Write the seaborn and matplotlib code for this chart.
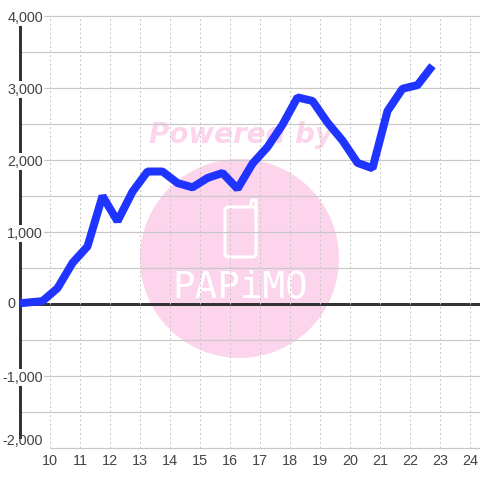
import matplotlib
matplotlib.use('Agg')
import matplotlib.pyplot as plt
from matplotlib.patches import Circle, FancyBboxPatch
import pandas as pd
import seaborn as sns

# Valores
horas = [9.0, 9.75, 10.25, 10.75, 11.25, 11.75, 12.25, 12.75, 13.25, 13.75,
         14.25, 14.75, 15.25, 15.75, 16.25, 16.75, 17.25, 17.75, 18.25, 18.75,
         19.25, 19.75, 20.25, 20.75, 21.25, 21.75, 22.25, 22.75]
valores = [10, 40, 220, 570, 800, 1500, 1150, 1560, 1840, 1840,
           1680, 1620, 1750, 1820, 1600, 1950, 2180, 2490, 2870, 2820,
           2520, 2270, 1960, 1885, 2680, 2990, 3040, 3310]
ticks_x = list(range(10, 25))
ticks_y = [-1000, 1000, 2000, 3000, 4000]
labels_y = ['-1,000', '1,000', '2,000', '3,000', '4,000']
grid_y = [-1500, -500, 500, 1500, 2500, 3500]

df = pd.DataFrame({'hora': horas, 'valor': valores})

sns.set_theme(style='white')
plt.rcParams['font.family'] = ['Liberation Sans', 'DejaVu Sans']

fig = plt.figure(figsize=(4.8, 4.8), dpi=100, facecolor='white')
ax = fig.add_axes([20 / 480, (480 - 448) / 480, 460 / 480, 432 / 480])

px = 72 / 100  # 1 pixel em pontos
cinza = '#c8c8c8'
texto = '#444444'
rosa = '#fcd5ec'

# Marca d'agua
ax.add_patch(Circle((239.5 / 480, 1 - 258.5 / 480), 99.5 / 480, transform=fig.transFigure,
                    fc=rosa, ec='none', zorder=0.1, clip_on=False))
ax.text(240.5 / 480, 1 - 135 / 480, 'Powered by', transform=fig.transFigure, color=rosa,
        family='DejaVu Sans', weight='bold', style='oblique', fontsize=20,
        ha='center', va='center', zorder=0.2)
ax.add_patch(FancyBboxPatch((225 / 480, 1 - 257 / 480), 31 / 480, 50 / 480,
                            boxstyle='round,pad=0,rounding_size=0.008', transform=fig.transFigure,
                            fc='none', ec='white', lw=3 * px, zorder=0.2))
ax.plot([250 / 480, 252 / 480, 256 / 480, 256 / 480],
        [1 - 207 / 480, 1 - 200 / 480, 1 - 200 / 480, 1 - 215 / 480],
        transform=fig.transFigure, color='white', lw=3 * px, zorder=0.2)
ax.text(240 / 480, 1 - 288 / 480, 'PAPiMO', transform=fig.transFigure, color='white',
        family='DejaVu Sans Mono', fontsize=27, ha='center', va='center', zorder=0.2)

# Grade
for v in grid_y:
    ax.axhline(v, color=cinza, lw=1.2 * px, zorder=1)
ax.hlines(-2000, 10, 9.0 + 460 / 30, color=cinza, lw=1.2 * px, zorder=1, clip_on=False)
ax.axhline(0, color='#333333', lw=3 * px, zorder=2.4)

# Linha
sns.lineplot(data=df, x='hora', y='valor', ax=ax, color='#1f35ff', lw=8 * px, zorder=3,
             solid_joinstyle='bevel', solid_capstyle='butt', errorbar=None)

ax.set_xlim(9.0, 9.0 + 460 / 30)
ax.set_ylim(-2000, 4000)
ax.set_xlabel('')
ax.set_ylabel('')
ax.set_xticks(ticks_x)
ax.set_yticks(ticks_y)
ax.set_yticklabels(labels_y)
ax.set_axisbelow(False)
ax.grid(True, axis='y', color=cinza, lw=1.2 * px, clip_on=False)
ax.grid(True, axis='x', color=cinza, lw=1 * px, ls=(0, (2, 2.5)))
ax.tick_params(axis='y', length=0, pad=-16.5, labelsize=10.4, labelcolor=texto)
ax.tick_params(axis='x', length=0, pad=4.5, labelsize=10.4, labelcolor=texto)
for lab in ax.get_yticklabels():
    lab.set_horizontalalignment('right')
    lab.set_bbox(dict(fc='white', ec='none', pad=1))

for s in ['top', 'right', 'bottom']:
    ax.spines[s].set_visible(False)
ax.spines['left'].set_color('#333333')
ax.spines['left'].set_linewidth(3 * px)
ax.spines['left'].set_bounds(-1847, 4000)

# O rotulo 0 fica a esquerda do eixo, o -2,000 um pouco acima da base
ax.annotate('0', xy=(0, 0), xycoords=ax.get_yaxis_transform(), xytext=(-12 * px, 0),
            textcoords='offset points', ha='left', va='center', fontsize=10.4, color=texto,
            annotation_clip=False)
ax.annotate('-2,000', xy=(0, -2000), xycoords=ax.get_yaxis_transform(), xytext=(23 * px, 7 * px),
            textcoords='offset points', ha='right', va='center', fontsize=10.4, color=texto,
            annotation_clip=False)

fig.savefig('out.png', dpi=100)
